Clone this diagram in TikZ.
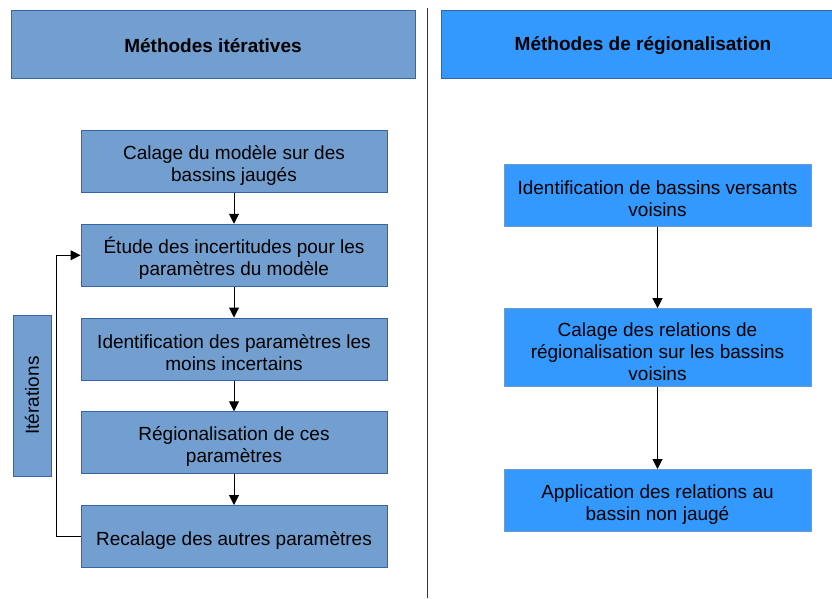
\documentclass[tikz,border=0pt]{standalone}
\usepackage{fontspec}
\setmainfont{Liberation Sans}
\usetikzlibrary{shapes,arrows.meta}
\definecolor{skyblue}{HTML}{729FCF}
\definecolor{skyline}{HTML}{3465A4}
\definecolor{brightblue}{HTML}{3399FF}
\definecolor{brightline}{HTML}{6F9BD0}
\newcommand{\boxfont}{\fontsize{19}{22}\selectfont}
\newcommand{\haut}{\rule{0pt}{22pt}}
\tikzstyle{header} = [line width=1pt, minimum height=68pt, font=\boxfont\bfseries, execute at begin node={\rule{0pt}{18pt}}]
\tikzstyle{etape} = [draw=skyline, fill=skyblue, line width=1pt, minimum width=306pt, minimum height=62pt, align=center, inner sep=6pt]
\tikzstyle{etapeR} = [draw=brightline, fill=brightblue, line width=1pt, minimum width=307pt, minimum height=62pt, align=center, inner sep=6pt]

\begin{document}
\begin{tikzpicture}[->,>={Triangle[length=10pt,width=10pt]},x=1pt,y=-1pt,node distance=93.75pt,font=\boxfont,line width=1pt]

  \useasboundingbox (0,0) rectangle (832,598);

  % column headers
  \node[header,draw=skyline,fill=skyblue,minimum width=404pt] (iter) at (213,44) {Méthodes itératives};
  \node[header,draw=skyline,fill=brightblue,minimum width=404pt] (regio) at (643,44) {Méthodes de régionalisation};
  \draw[-,black!80] (427,8) -- (427,598);

  % left column
  \node[etape] (calage) at (234,161.5) {\haut Calage du modèle sur des\\bassins jaugés};
  \node[etape] (etude) [below of = calage] {\haut Étude des incertitudes pour les\\paramètres du modèle};
  \node[etape] (ident) [below of = etude] {\haut Identification des paramètres les\\moins incertains};
  \node[etape] (regparam) [below of = ident] {\haut Régionalisation de ces\\paramètres};
  \node[etape] (recal) [below of = regparam] {\haut Recalage des autres paramètres};
  \node[draw=skyline,fill=skyblue,rotate=90,minimum width=161pt,minimum height=38pt,inner sep=0pt] (iters) at (32,395.5) {Itérations};

  % right column
  \node[etapeR] (voisins) at (657.5,195) {\haut Identification de bassins versants\\voisins};
  \node[etapeR,node distance=152.75pt,minimum height=77pt] (relat) [below of = voisins] {\haut Calage des relations de\\régionalisation sur les bassins\\voisins};
  \node[etapeR,node distance=152.75pt] (appli) [below of = relat] {\haut Application des relations au\\bassin non jaugé};

  \path
    (calage) edge (etude)
    (etude) edge (ident)
    (ident) edge (regparam)
    (regparam) edge (recal)
    (voisins) edge (relat)
    (relat) edge (appli);
  \draw (recal.west) -- ++(-24,0) |- (etude.west);

\end{tikzpicture}
\end{document}
